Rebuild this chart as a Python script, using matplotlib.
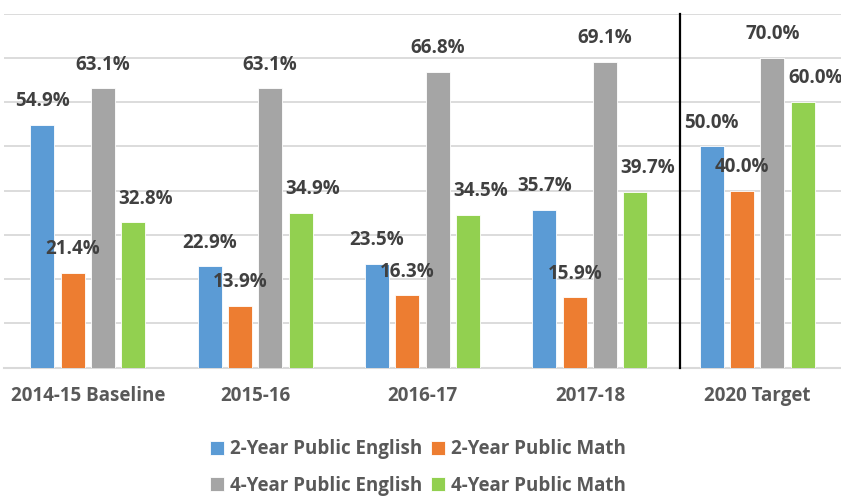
import numpy as np
import matplotlib.pyplot as plt

plt.rcParams['font.family'] = ['Open Sans', 'DejaVu Sans']

categories = ['2014-15 Baseline', '2015-16', '2016-17', '2017-18', '2020 Target']
series_names = ['2-Year Public English', '2-Year Public Math',
                '4-Year Public English', '4-Year Public Math']
eng_2yr = [54.9, 22.9, 23.5, 35.7, 50.0]
math_2yr = [21.4, 13.9, 16.3, 15.9, 40.0]
eng_4yr = [63.1, 63.1, 66.8, 69.1, 70.0]
math_4yr = [32.8, 34.9, 34.5, 39.7, 60.0]

colors = ['#5B9BD5', '#ED7D31', '#A5A5A5', '#92D050']
label_dx = [0, 0, 0, 9]  # green labels sit a bit to the right

fig = plt.figure(figsize=(8.41, 4.97), dpi=100)
ax = fig.add_axes([4 / 841, (497 - 367.5) / 497, 837 / 841, 354 / 497])

x = np.arange(len(categories))
width = 0.143
step = 0.181

handles = []
for k, vals in enumerate([eng_2yr, math_2yr, eng_4yr, math_4yr]):
    pos = x + (k - 1.5) * step
    b = ax.bar(pos, vals, width, color=colors[k], label=series_names[k],
               edgecolor='white', linewidth=0.6, zorder=3)
    handles.append(b)
    for px, v in zip(pos, vals):
        ax.annotate(f'{v:.1f}%', (px, v), xytext=(label_dx[k], 17),
                    textcoords='offset points', ha='center', va='center',
                    fontsize=13.5, fontweight='bold', color='#404040', zorder=4)

ax.set_xlim(-0.5, len(categories) - 0.5)
ax.set_ylim(0, 80)
ax.set_yticks(np.arange(0, 81, 10))
ax.yaxis.grid(True, color='#D9D9D9', linewidth=1.3, zorder=0)
ax.tick_params(axis='y', left=False, labelleft=False)
ax.tick_params(axis='x', length=0, pad=13)
ax.set_xticks(x)
ax.set_xticklabels(categories, fontsize=13.5, fontweight='bold', color='#595959')
for s in ['top', 'right', 'left']:
    ax.spines[s].set_visible(False)
ax.spines['bottom'].set_color('#D9D9D9')
ax.spines['bottom'].set_linewidth(1.5)

ax.axvline(3.54, ymin=0, ymax=1.0, color='black', linewidth=1.6, zorder=5, clip_on=False)

# legend fills row by row in the reference
order = [0, 2, 1, 3]
fig.legend([handles[i] for i in order], [series_names[i] for i in order],
           loc='upper center', bbox_to_anchor=(0.497, 0.15), ncol=2, frameon=False,
           handlelength=0.75, handleheight=0.75, handletextpad=0.3, columnspacing=0.5,
           labelspacing=0.88, prop={'size': 13.5, 'weight': 'bold'}, labelcolor='#595959')

fig.savefig('out.png', dpi=100)
